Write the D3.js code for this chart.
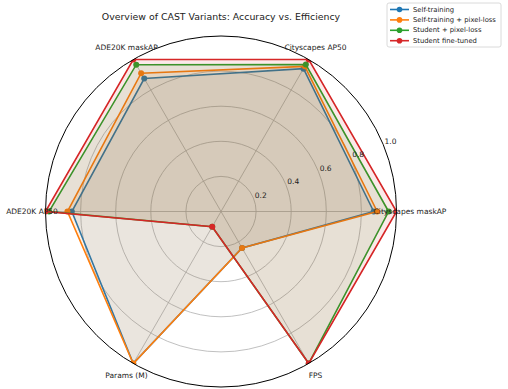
<!DOCTYPE html>
<html>
<head>
<meta charset="utf-8">
<script src="https://cdn.jsdelivr.net/npm/d3@7"></script>
<style>
  html, body { margin: 0; padding: 0; background: #fff; }
  svg { display: block; font-family: "DejaVu Sans", sans-serif; }
</style>
</head>
<body>
<svg id="chart" width="508" height="389"></svg>
<script>
// Axes of the radar, counter-clockwise from the right
const categories = ["Cityscapes maskAP", "Cityscapes AP50", "ADE20K maskAP", "ADE20K AP50", "Params (M)", "FPS"];

// Normalised scores per variant (same order as categories)
const selfTraining      = [0.87, 0.94, 0.875, 0.85, 1.0, 0.24];
const selfTrainingPixel = [0.89, 0.955, 0.91, 0.875, 1.0, 0.24];
const studentPixel      = [0.955, 0.967, 0.966, 0.98, 0.10, 1.0];
const studentFineTuned  = [1.0, 1.0, 1.0, 1.0, 0.10, 1.0];

const seriesNames = ["Self-training", "Self-training + pixel-loss", "Student + pixel-loss", "Student fine-tuned"];
const seriesValues = [selfTraining, selfTrainingPixel, studentPixel, studentFineTuned];
const seriesColors = ["#1f77b4", "#ff7f0e", "#2ca02c", "#d62728"];

const radialTicks = [0.2, 0.4, 0.6, 0.8, 1.0];
const title = "Overview of CAST Variants: Accuracy vs. Efficiency";

const svg = d3.select("#chart");
const cx = 221, cy = 211.5, R = 175.5;

const r = d3.scaleLinear().domain([0, 1]).range([0, R]);
// category angle in radians, counter-clockwise from east
const theta = d3.scaleLinear().domain([0, categories.length]).range([0, 2 * Math.PI]);
// d3 radial angle: 0 at top, clockwise
const d3Angle = i => Math.PI / 2 - theta(i);

svg.append("defs").append("clipPath").attr("id", "polarClip")
  .append("circle").attr("cx", 0).attr("cy", 0).attr("r", R);

const g = svg.append("g").attr("transform", `translate(${cx},${cy})`);

// concentric grid circles
g.selectAll("circle.grid").data(radialTicks.slice(0, -1)).join("circle")
  .attr("class", "grid")
  .attr("r", d => r(d))
  .attr("fill", "none").attr("stroke", "#b0b0b0").attr("stroke-width", 0.8);

// spokes
g.selectAll("line.spoke").data(categories).join("line")
  .attr("class", "spoke")
  .attr("x1", 0).attr("y1", 0)
  .attr("x2", (d, i) => r(1) * Math.cos(theta(i)))
  .attr("y2", (d, i) => -r(1) * Math.sin(theta(i)))
  .attr("stroke", "#b0b0b0").attr("stroke-width", 0.8);

const radial = d3.lineRadial()
  .angle((d, i) => d3Angle(i))
  .radius(d => r(d))
  .curve(d3.curveLinearClosed);

// series are clipped to the plotting circle
const sg = g.append("g").attr("clip-path", "url(#polarClip)");
seriesValues.forEach((vals, s) => {
  const col = seriesColors[s];
  sg.append("path").attr("d", radial(vals))
    .attr("fill", "none").attr("stroke", col).attr("stroke-width", 1.6)
    .attr("stroke-linejoin", "miter");
  sg.selectAll(null).data(vals).join("circle")
    .attr("cx", (d, i) => r(d) * Math.cos(theta(i)))
    .attr("cy", (d, i) => -r(d) * Math.sin(theta(i)))
    .attr("r", 3).attr("fill", col);
  sg.append("path").attr("d", radial(vals))
    .attr("fill", col).attr("fill-opacity", 0.1).attr("stroke", "none");
});

// outer frame
g.append("circle").attr("r", r(1)).attr("fill", "none").attr("stroke", "#000").attr("stroke-width", 1);

// radial tick labels along 22.5 degrees
const labAng = 22.5 * Math.PI / 180;
g.selectAll("text.rtick").data(radialTicks).join("text")
  .attr("class", "rtick")
  .attr("x", d => (r(d) + 8) * Math.cos(labAng))
  .attr("y", d => -(r(d) + 8) * Math.sin(labAng))
  .attr("text-anchor", "middle").attr("dominant-baseline", "central")
  .attr("font-size", 7.5).attr("fill", "#222")
  .text(d => d.toFixed(1));

// category labels
g.selectAll("text.cat").data(categories).join("text")
  .attr("class", "cat")
  .attr("x", (d, i) => (R + 13.5) * Math.cos(theta(i)))
  .attr("y", (d, i) => -(R + 13.5) * Math.sin(theta(i)))
  .attr("text-anchor", "middle").attr("dominant-baseline", "central")
  .attr("font-size", 7.5).attr("fill", "#222")
  .text(d => d);

// title
svg.append("text").attr("x", cx).attr("y", 19.5)
  .attr("text-anchor", "middle").attr("font-size", 9.4).attr("fill", "#222")
  .text(title);

// legend
const lg = svg.append("g").attr("transform", "translate(387,3)");
lg.append("rect").attr("width", 114).attr("height", 44).attr("rx", 2)
  .attr("fill", "#fff").attr("stroke", "#d0d0d0").attr("stroke-width", 0.8);
seriesNames.forEach((name, s) => {
  const y = 6.5 + s * 10.4;
  lg.append("line").attr("x1", 3).attr("x2", 22).attr("y1", y).attr("y2", y)
    .attr("stroke", seriesColors[s]).attr("stroke-width", 1.6);
  lg.append("circle").attr("cx", 12.5).attr("cy", y).attr("r", 2.8).attr("fill", seriesColors[s]);
  lg.append("text").attr("x", 26).attr("y", y).attr("dominant-baseline", "central")
    .attr("font-size", 6.8).attr("fill", "#222").text(name);
});
</script>
</body>
</html>
